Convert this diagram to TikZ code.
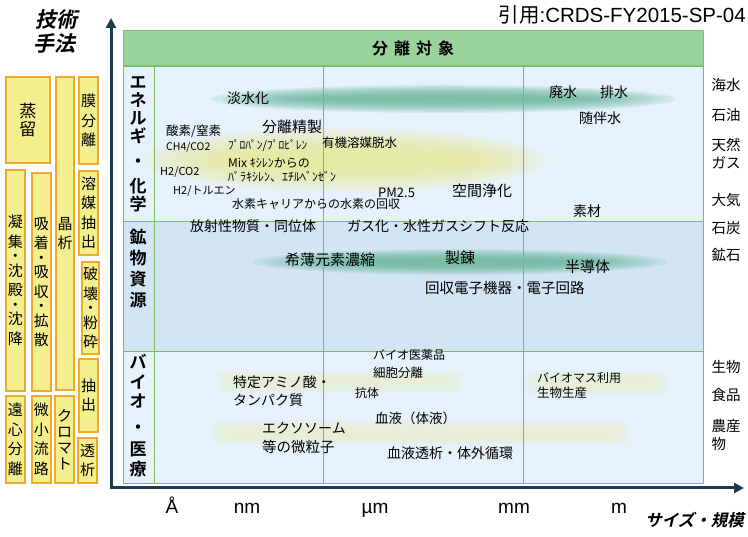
\documentclass[tikz,border=0pt]{standalone}
\usepackage{fontspec}
\setmainfont{Liberation Sans}
\newfontfamily\jp{Noto Sans CJK JP}
\newfontfamily\jpb{Noto Sans CJK JP Bold}
\newfontfamily\jpbi[FakeSlant=0.22]{Noto Sans CJK JP Bold}
\usetikzlibrary{arrows.meta}
\definecolor{rowA}{HTML}{E5F1FB}
\definecolor{rowB}{HTML}{D3E5F5}
\definecolor{gridc}{HTML}{7DBB5E}
\definecolor{hdrfill}{HTML}{9AD49C}
\definecolor{hdrline}{HTML}{7CC26E}
\definecolor{techfill}{HTML}{F3EF8E}
\definecolor{techline}{HTML}{EEA92E}
\definecolor{axisc}{HTML}{1B3C4A}
\definecolor{bandteal}{HTML}{5FB291}
\definecolor{bandyellow}{HTML}{E6EA8C}
\definecolor{bandlight}{HTML}{E6EFCC}
\newcommand\pxs[2]{\fontsize{#1}{#2}\selectfont}
\newcommand\softband[5]{\foreach \k in {0,...,9}{\fill[#5, opacity=0.13] (#1,#2) ellipse ({#3*(1-0.045*\k)} and {#4*(1-0.085*\k)});}}
\newcommand\softbar[5]{\foreach \k in {0,...,5}{\fill[#5, opacity=0.2, rounded corners=6pt] ({#1-#3+\k*3},{#2-#4+\k*1.5}) rectangle ({#1+#3-\k*3},{#2+#4-\k*1.5});}}
\tikzset{
  txt/.style={inner sep=0pt, text=black},
  tech/.style={draw=techline, fill=techfill, line width=1.3pt, inner sep=0pt, align=center, font={\jp\pxs{15}{19.5}}},
  rowlbl/.style={inner sep=0pt, align=center, font={\jpb\pxs{17}{18}}},
  side/.style={inner sep=0pt, align=center, font={\jp\pxs{14.5}{18}}},
  tick/.style={inner sep=0pt, anchor=base, font={\pxs{19}{19}}},
  axisline/.style={draw=axisc, line width=3pt, line join=miter},
  grid line/.style={draw=gridc, line width=0.9pt}
}
\begin{document}
\begin{tikzpicture}[x=1pt,y=-1pt]
\useasboundingbox (0,0) rectangle (748,537);
\fill[white] (0,0) rectangle (748,537);

% rows
\fill[rowA] (123,66) rectangle (703,221);
\fill[rowB] (123,221) rectangle (703,351);
\fill[rowA] (123,351) rectangle (703,483);

% soft bands
\softband{443}{99}{232}{14}{bandteal}
\softband{345}{160}{202}{32}{bandyellow}
\softband{460}{262}{207}{13}{bandteal}
\softbar{340}{382}{123}{11}{bandlight}
\softbar{597}{383}{70}{12}{bandlight}
\softbar{421}{433}{209}{12}{bandlight}

% grid lines
\draw[grid line] (123,66) rectangle (703,483);
\draw[grid line] (154,66) -- (154,483);
\draw[grid line] (323,66) -- (323,483);
\draw[grid line] (523,66) -- (523,483);
\draw[grid line] (123,221) -- (703,221);
\draw[grid line] (123,351) -- (703,351);

% header
\node[draw=hdrline, fill=hdrfill, line width=1pt, minimum width=580, minimum height=35, inner sep=0pt,
      font={\jpb\pxs{16}{16}}] (hdr) at (413,48.5) {分\hspace{6pt}離\hspace{6pt}対\hspace{6pt}象};

% axes
\coordinate (O) at (111,488);
\coordinate (ytip) at (111,18);
\coordinate (xtip) at (744,488);
\draw[axisline, {Triangle[width=10pt,length=10pt]}-{Triangle[width=10pt,length=10pt]}] (ytip) -- (O) -- (xtip);

% top texts
\node[txt, font={\jpbi\pxs{21}{21}}] (gijutsu) at (56,20) {技術};
\node[txt, font={\jpbi\pxs{21}{21}}] (shuho) at (55,44) {手法};
\node[txt, anchor=east, font={\pxs{20.5}{20.5}}] (cite) at (746,15) {{\jp 引用}:CRDS-FY2015-SP-04};

% technique boxes
\node[tech, minimum width=44, minimum height=86, font={\jp\pxs{17}{18}}] (b1) at (28,120) {蒸\\留};
\node[tech, minimum width=18, minimum height=313] (b2) at (65,233.5) {晶\\析};
\node[tech, minimum width=19, minimum height=87] (b3) at (88.5,120.5) {膜\\分\\離};
\node[tech, minimum width=19, minimum height=84] (b4) at (88.5,213) {溶\\媒\\抽\\出};
\node[tech, minimum width=17, minimum height=92] (b5) at (90.5,308) {破\\壊\\[-5pt]・\\[-5pt]粉\\砕};
\node[tech, minimum width=19, minimum height=73] (b6) at (88.5,395.5) {抽\\出};
\node[tech, minimum width=19, minimum height=45] (b7) at (87.5,460.5) {透\\析};
\node[tech, minimum width=19, minimum height=221] (b8) at (15.5,280.5) {凝\\集\\[-5pt]・\\[-5pt]沈\\殿\\[-5pt]・\\[-5pt]沈\\降};
\node[tech, minimum width=19, minimum height=218] (b9) at (41.5,282) {吸\\着\\[-5pt]・\\[-5pt]吸\\収\\[-5pt]・\\[-5pt]拡\\散};
\node[tech, minimum width=19, minimum height=87] (b10) at (15.5,439.5) {遠\\心\\分\\離};
\node[tech, minimum width=19, minimum height=87] (b11) at (41.5,439.5) {微\\小\\流\\路};
\node[tech, minimum width=19, minimum height=87, font={\jp\pxs{15}{16}}] (b12) at (64.5,439.5) {ク\\ロ\\マ\\ト};

% row labels
\node[rowlbl] (r1) at (138,144) {エ\\ネ\\ル\\ギ\\[7pt]・\\[7pt]化\\学};
\node[rowlbl, font={\jpb\pxs{17}{21}}] (r2) at (138,268.5) {鉱\\物\\資\\源};
\node[rowlbl, font={\jpb\pxs{17}{19.5}}] (r3) at (138,415.5) {バ\\イ\\オ\\[6pt]・\\[3pt]医\\療};

% row 1 texts
\node[txt, font={\jp\pxs{14}{14}}] (tansui) at (248,98) {淡水化};
\node[txt, font={\jp\pxs{14}{14}}] (haisui) at (563,92) {廃水};
\node[txt, font={\jp\pxs{14}{14}}] (haisui2) at (614,92) {排水};
\node[txt, font={\jp\pxs{14}{14}}] (zuihan) at (600,118) {随伴水};
\node[txt, font={\jp\pxs{15}{15}}] (bunri) at (292,127) {分離精製};
\node[txt, anchor=west, font={\jp\pxs{12.5}{12.5}}] (sanso) at (166,131) {酸素/窒素};
\node[txt, anchor=west, font={\jp\pxs{10.5}{10.5}}] (ch4) at (166,147) {CH4/CO2};
\node[txt, anchor=west, font={\jp\pxs{11.5}{11.5}}] (propane) at (228,146) {ﾌﾟﾛﾊﾟﾝ/ﾌﾟﾛﾋﾟﾚﾝ};
\node[txt, anchor=west, font={\jp\pxs{12.5}{12.5}}] (yuki) at (322,143) {有機溶媒脱水};
\node[txt, anchor=west, font={\jp\pxs{12}{12}}] (mix) at (228,163) {Mix ｷｼﾚﾝからの};
\node[txt, anchor=west, font={\jp\pxs{12}{12}}] (para) at (228,177) {ﾊﾟﾗｷｼﾚﾝ、ｴﾁﾙﾍﾞﾝｾﾞﾝ};
\node[txt, anchor=west, font={\jp\pxs{11}{11}}] (h2co2) at (160,172) {H2/CO2};
\node[txt, anchor=west, font={\jp\pxs{11}{11}}] (h2tol) at (173,191) {H2/トルエン};
\node[txt, anchor=west, font={\jp\pxs{12}{12}}] (suiso) at (232,204) {水素キャリアからの水素の回収};
\node[txt, anchor=west, font={\jp\pxs{13}{13}}] (pm) at (378,193) {PM2.5};
\node[txt, anchor=west, font={\jp\pxs{15}{15}}] (kukan) at (452,191) {空間浄化};
\node[txt, font={\jp\pxs{14}{14}}] (sozai) at (587,211) {素材};
\node[txt, anchor=west, font={\jp\pxs{14}{14}}] (hosha) at (190,226) {放射性物質・同位体};
\node[txt, anchor=west, font={\jp\pxs{14}{14}}] (gas) at (347,226) {ガス化・水性ガスシフト反応};

% row 2 texts
\node[txt, anchor=west, font={\jp\pxs{15}{15}}] (kihaku) at (285,260) {希薄元素濃縮};
\node[txt, anchor=west, font={\jp\pxs{15}{15}}] (seiren) at (445,258) {製錬};
\node[txt, anchor=west, font={\jp\pxs{15}{15}}] (handotai) at (565,267) {半導体};
\node[txt, anchor=west, font={\jp\pxs{14.5}{14.5}}] (kaishu) at (425,288) {回収電子機器・電子回路};

% row 3 texts
\node[txt, anchor=west, font={\jp\pxs{12}{12}}] (bioiyaku) at (373,355) {バイオ医薬品};
\node[txt, anchor=west, font={\jp\pxs{12.5}{12.5}}] (saibo) at (373,373) {細胞分離};
\node[txt, anchor=west, font={\jp\pxs{14}{14}}] (tokutei) at (233,382) {特定アミノ酸・};
\node[txt, anchor=west, font={\jp\pxs{14}{14}}] (tanpaku) at (233,400) {タンパク質};
\node[txt, anchor=west, font={\jp\pxs{12}{12}}] (kotai) at (355,393) {抗体};
\node[txt, anchor=west, font={\jp\pxs{13.5}{13.5}}] (ketsueki) at (375,418) {血液（体液）};
\node[txt, anchor=west, font={\jp\pxs{14}{14}}] (exo) at (262,428) {エクソソーム};
\node[txt, anchor=west, font={\jp\pxs{14.5}{14.5}}] (toubi) at (262,447) {等の微粒子};
\node[txt, anchor=west, font={\jp\pxs{14}{14}}] (toseki) at (387,453) {血液透析・体外循環};
\node[txt, anchor=west, font={\jp\pxs{12}{12}}] (biomass) at (537,378) {バイオマス利用};
\node[txt, anchor=west, font={\jp\pxs{12.5}{12.5}}] (seisan) at (537,393) {生物生産};

% right side labels
\node[side] (s1) at (726,85) {海水};
\node[side] (s2) at (726,115) {石油};
\node[side] (s3) at (726,154) {天然\\ガス};
\node[side] (s4) at (726,200) {大気};
\node[side] (s5) at (726,228) {石炭};
\node[side] (s6) at (726,255) {鉱石};
\node[side] (s7) at (726,367) {生物};
\node[side] (s8) at (726,395) {食品};
\node[side, align=left] (s9) at (726,435) {農産\\物};

% bottom axis labels
\node[tick] (ang) at (172,514) {Å};
\node[tick] (nm) at (247,514) {nm};
\node[tick] (um) at (375,514) {µm};
\node[tick] (mm) at (514,514) {mm};
\node[tick] (m) at (619,514) {m};
\node[txt, anchor=east, font={\jpbi\pxs{16.5}{16.5}}] (size) at (744,520) {サイズ・規模};
\end{tikzpicture}
\end{document}
